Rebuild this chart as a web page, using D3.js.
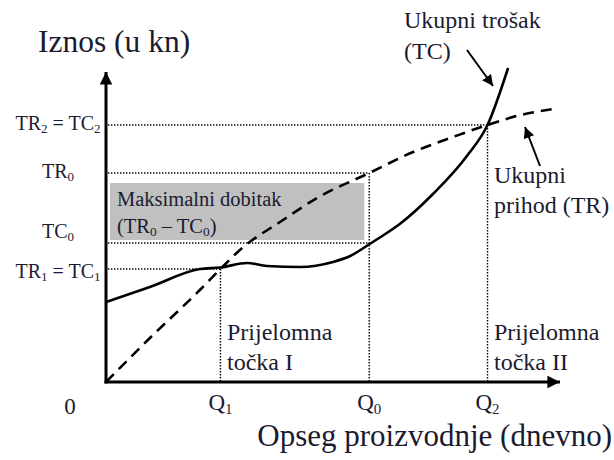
<!doctype html>
<html lang="hr">
  <head>
    <meta charset="utf-8">
    <title>Prijelomna točka</title>
    <script src="https://d3js.org/d3.v7.min.js"></script>
    <style>
      body { margin: 0; background: #fff; }
      text { font-family: "Liberation Serif", "DejaVu Serif", serif; fill: #1b1b30; }
    </style>
  </head>
  <body>
    <div id="chart"></div>
    <script>

      // quantity (x) and amount (y) values
      const qMarks = [
        {name: "Q", sub: "1", q: 30},
        {name: "Q", sub: "0", q: 69},
        {name: "Q", sub: "2", q: 100}
      ];
      const levelLabels = ["TR_2 = TC_2", "TR_0", "TC_0", "TR_1 = TC_1"];
      const levelValues = [257, 209, 139, 113];
      const levelToQ = [100, 69, 69, 30];

      // total cost (TC) curve
      const tcQ = [0, 11.5, 24.6, 30, 37, 42.2, 50.9, 59.5, 64, 68.7, 72, 77, 85.7, 94.6, 100, 105.4];
      const tcVal = [80, 95, 113, 114.5, 119, 116, 115, 120, 126, 137, 145, 158, 188, 226, 257, 314];

      // total revenue (TR) curve
      const trQ = [0, 11.5, 24.6, 30, 35.1, 46.4, 55.3, 69, 80.5, 90.2, 100, 108.7, 117.2];
      const trVal = [0, 44, 92, 113, 132, 162, 184, 209, 230, 244, 257, 267, 273];

      const W = 614, H = 460;
      const svg = d3.select("#chart").append("svg")
        .attr("width", W).attr("height", H);

      const x = d3.scaleLinear().domain([0, 119]).range([106, 560]);
      const y = d3.scaleLinear().domain([0, 310]).range([382, 72]);

      // arrow heads
      const defs = svg.append("defs");
      [["head", 4.2], ["headSmall", 5.5]].forEach(([id, s]) => {
        defs.append("marker")
            .attr("id", id)
            .attr("viewBox", "0 0 10 10")
            .attr("refX", 10).attr("refY", 5)
            .attr("markerWidth", s).attr("markerHeight", s)
            .attr("markerUnits", "strokeWidth")
            .attr("orient", "auto")
          .append("path")
            .attr("d", "M0,0 L10,5 L0,10 z")
            .attr("fill", "#000");
      });

      // grey box: maximum profit
      const q0 = qMarks[1].q;
      svg.append("rect")
        .attr("x", x(0) + 4)
        .attr("y", y(levelValues[1]) + 10)
        .attr("width", x(q0) - x(0) - 9)
        .attr("height", y(levelValues[2]) - y(levelValues[1]) - 13)
        .attr("fill", "#c0c0c0");

      // dotted guide lines
      const guides = svg.append("g")
        .attr("stroke", "#000")
        .attr("stroke-width", 1.4)
        .attr("stroke-dasharray", "1.4,1.6")
        .attr("fill", "none");
      levelValues.forEach((v, i) => {
        guides.append("line")
          .attr("x1", x(0) + 2).attr("x2", x(levelToQ[i]))
          .attr("y1", y(v)).attr("y2", y(v));
      });
      qMarks.forEach(m => {
        const top = d3.max(levelValues.filter((v, j) => levelToQ[j] === m.q));
        guides.append("line")
          .attr("x1", x(m.q)).attr("x2", x(m.q))
          .attr("y1", y(top)).attr("y2", y(0));
      });

      // curves
      const tcData = tcQ.map((q, i) => [q, tcVal[i]]);
      const trData = trQ.map((q, i) => [q, trVal[i]]);
      const line = d3.line()
        .x(d => x(d[0])).y(d => y(d[1]))
        .curve(d3.curveMonotoneX);

      svg.append("path")
        .attr("d", line(trData))
        .attr("fill", "none")
        .attr("stroke", "#000")
        .attr("stroke-width", 2.6)
        .attr("stroke-dasharray", "11,7");

      svg.append("path")
        .attr("d", line(tcData))
        .attr("fill", "none")
        .attr("stroke", "#000")
        .attr("stroke-width", 2.6);

      // axes with arrows
      svg.append("line")
        .attr("x1", x(0)).attr("y1", y(0) + 1.5)
        .attr("x2", x(0)).attr("y2", y(310))
        .attr("stroke", "#000").attr("stroke-width", 3)
        .attr("marker-end", "url(#head)");
      svg.append("line")
        .attr("x1", x(0) - 1.5).attr("y1", y(0))
        .attr("x2", x(119)).attr("y2", y(0))
        .attr("stroke", "#000").attr("stroke-width", 3)
        .attr("marker-end", "url(#head)");

      // helper: text with subscripts written as "TR_2"
      function richText(sel, str) {
        let back = false;
        str.split(/(_\d)/).forEach(part => {
          if (!part) return;
          if (part[0] === "_") {
            sel.append("tspan").attr("font-size", "0.65em").attr("dy", "0.25em").text(part.slice(1));
            back = true;
          } else {
            const t = sel.append("tspan").text(part);
            if (back) { t.attr("dy", "-0.16em"); back = false; }
          }
        });
      }

      // y level labels
      const levelDy = [5, 5, -5, 9];
      levelLabels.forEach((l, i) => {
        const t = svg.append("text")
          .attr("x", 58).attr("y", y(levelValues[i]) + levelDy[i])
          .attr("text-anchor", "middle")
          .attr("font-size", 20);
        richText(t, l);
      });

      // x labels
      svg.append("text")
        .attr("x", 70).attr("y", 414)
        .attr("text-anchor", "middle")
        .attr("font-size", 23)
        .text("0");
      qMarks.forEach(m => {
        const t = svg.append("text")
          .attr("x", x(m.q)).attr("y", 410)
          .attr("text-anchor", "middle")
          .attr("font-size", 23);
        richText(t, m.name + "_" + m.sub);
      });

      // axis titles
      svg.append("text")
        .attr("x", 38).attr("y", 52)
        .attr("font-size", 31.5)
        .text("Iznos (u kn)");
      svg.append("text")
        .attr("x", 612).attr("y", 446)
        .attr("text-anchor", "end")
        .attr("font-size", 31)
        .text("Opseg proizvodnje (dnevno)");

      // annotations
      function block(lines, x0, y0, size, gap) {
        lines.forEach((l, i) => {
          const t = svg.append("text")
            .attr("x", x0).attr("y", y0 + i * gap)
            .attr("font-size", size);
          richText(t, l);
        });
      }
      block(["Ukupni trošak", "(TC)"], 404, 28, 24, 31);
      block(["Ukupni", "prihod (TR)"], 494, 183, 24, 30);
      block(["Prijelomna", "točka I"], 227, 340, 24, 30);
      block(["Prijelomna", "točka II"], 494, 340, 24, 30);
      block(["Maksimalni dobitak", "(TR_0 – TC_0)"], 117, 206, 20.5, 27);

      // pointer arrows
      svg.append("line")
        .attr("x1", 467).attr("y1", 50).attr("x2", 493).attr("y2", 86)
        .attr("stroke", "#000").attr("stroke-width", 2)
        .attr("marker-end", "url(#headSmall)");
      svg.append("line")
        .attr("x1", 540).attr("y1", 166).attr("x2", 525).attr("y2", 127)
        .attr("stroke", "#000").attr("stroke-width", 2)
        .attr("marker-end", "url(#headSmall)");

    </script>
  </body>
</html>
